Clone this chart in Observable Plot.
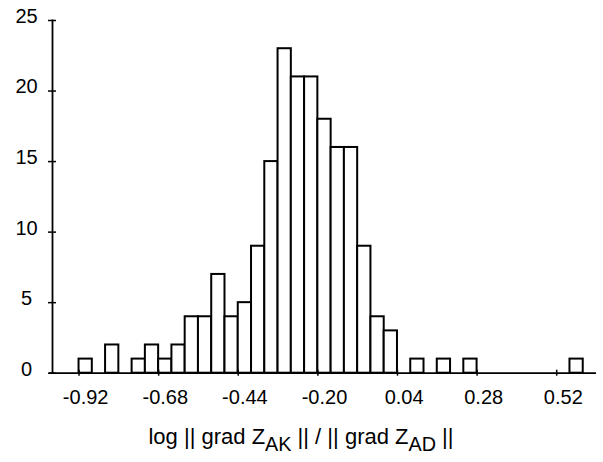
<!DOCTYPE html>
<html>
<head>
<meta charset="utf-8">
<script src="https://cdn.jsdelivr.net/npm/d3@7"></script>
<script src="https://cdn.jsdelivr.net/npm/@observablehq/plot@0.6"></script>
<style>
  body { margin: 0; background: #fff; font-family: "Liberation Sans", Arial, sans-serif; color: #000; }
  #chart { position: absolute; left: 0; top: 0; }
  #title { position: absolute; left: 0; top: 424px; width: 602px; text-align: center; font-size: 22px; white-space: nowrap; }
  #title sub { font-size: 0.9em; vertical-align: -0.35em; line-height: 0; }
</style>
</head>
<body>
<div id="chart"></div>
<div id="title">log || grad Z<sub>AK</sub> || / || grad Z<sub>AD</sub> ||</div>
<script>
// Histogram bins (left edge of each 0.04-wide bin) and their counts
const binStarts = [-0.92, -0.88, -0.84, -0.80, -0.76, -0.72, -0.68, -0.64, -0.60, -0.56,
                   -0.52, -0.48, -0.44, -0.40, -0.36, -0.32, -0.28, -0.24, -0.20, -0.16,
                   -0.12, -0.08, -0.04, 0.00, 0.04, 0.08, 0.12, 0.16, 0.20, 0.24,
                   0.28, 0.32, 0.36, 0.40, 0.44, 0.48, 0.52, 0.56];
const counts = [1, 0, 2, 0, 1, 2, 1, 2, 4, 4,
                7, 4, 5, 9, 15, 23, 21, 21, 18, 16,
                16, 9, 4, 3, 0, 1, 0, 1, 0, 1,
                0, 0, 0, 0, 0, 0, 0, 1];
const binWidth = 0.04;

// Axis ticks
const xTickValues = [-0.92, -0.68, -0.44, -0.20, 0.04, 0.28, 0.52];
const xTickLabels = ["-0.92", "-0.68", "-0.44", "-0.20", "0.04", "0.28", "0.52"];
const yTickValues = [0, 5, 10, 15, 20, 25];
const xDomain = [-1.0, 0.64];
const yDomain = [0, 25];

const bins = binStarts
  .map((x0, i) => ({x0, x1: x0 + binWidth, count: counts[i]}))
  .filter(d => d.count > 0);

const chart = Plot.plot({
  width: 603,
  height: 418,
  marginLeft: 52,
  marginRight: 7,
  marginTop: 20,
  marginBottom: 45.3,
  x: {domain: xDomain},
  y: {domain: yDomain},
  style: {fontFamily: "'Liberation Sans', Arial, sans-serif", fontSize: "20px", color: "#000", background: "#fff"},
  marks: [
    Plot.rectY(bins, {x1: "x0", x2: "x1", y: "count", fill: "white", stroke: "black", strokeWidth: 2}),
    Plot.ruleY([0], {stroke: "black", strokeWidth: 1.8, insetLeft: -3}),
    Plot.frame({anchor: "left", stroke: "black", strokeWidth: 1.8}),
    Plot.axisY(yTickValues, {tickSize: 4, fill: "none", strokeWidth: 1.5}),
    Plot.axisY(yTickValues, {tickSize: -4, fill: "none", strokeWidth: 1.5}),
    Plot.axisX(xTickValues, {tickSize: 3, fill: "none", strokeWidth: 1.5}),
    Plot.axisX(xTickValues, {tickSize: -3, fill: "none", strokeWidth: 1.5}),
    Plot.text(yTickValues, {y: d => d, frameAnchor: "left", dx: -26, dy: -4, textAnchor: "middle", text: d => String(d), fontSize: 20}),
    Plot.text(xTickValues, {x: d => d + binWidth / 2, frameAnchor: "bottom", dy: 31, text: (d, i) => xTickLabels[i], fontSize: 20})
  ]
});
document.getElementById("chart").append(chart);
</script>
</body>
</html>
